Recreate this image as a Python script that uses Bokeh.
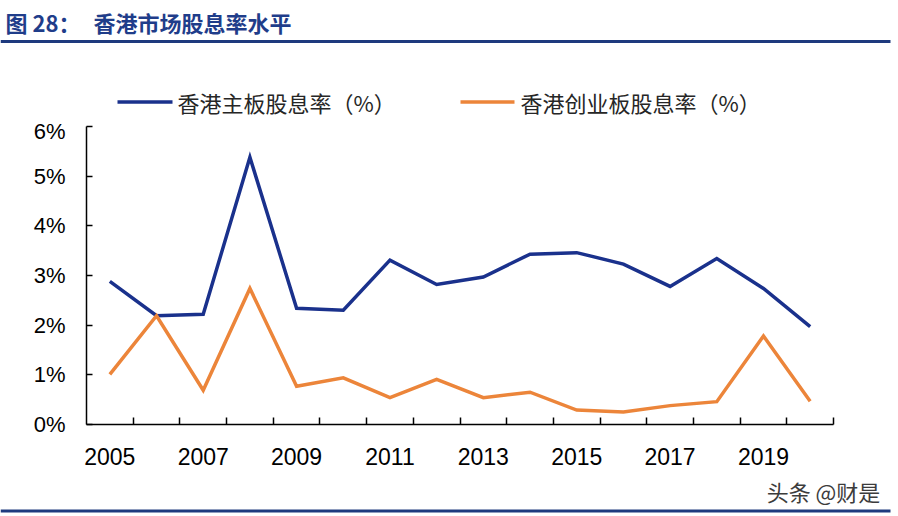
from bokeh.plotting import figure
from bokeh.models import FixedTicker, Range1d
from bokeh.layouts import column
from bokeh.core.properties import value
from bokeh.embed import file_html
from bokeh.resources import INLINE

# ---- data ----
years = list(range(2005, 2021))
main_board = [2.88, 2.19, 2.22, 5.38, 2.34, 2.30, 3.31, 2.82, 2.97, 3.43, 3.46, 3.23, 2.78, 3.34, 2.74, 1.97]
gem_board = [1.01, 2.19, 0.69, 2.74, 0.77, 0.94, 0.54, 0.91, 0.54, 0.65, 0.29, 0.25, 0.38, 0.46, 1.78, 0.47]
y_tick_values = [0, 1, 2, 3, 4, 5, 6]
y_tick_labels = ["0%", "1%", "2%", "3%", "4%", "5%", "6%"]
x_label_years = [2005, 2007, 2009, 2011, 2013, 2015, 2017, 2019]
series_names = ["香港主板股息率（%）", "香港创业板股息率（%）"]
title_parts = ["图 28：", "香港市场股息率水平"]
watermark = "头条 @财是"

BLUE = "#1a318c"
ORANGE = "#ec853a"
NAVY = "#1e3a7e"
CJK = "Noto Sans CJK SC"
W = 898
TOP_H = 118


def blank_fig(height, y_top, y_bottom):
    f = figure(width=W, height=height, output_backend="svg", toolbar_location=None,
               x_range=Range1d(0, W), y_range=Range1d(y_bottom, y_top),
               x_axis_location=None, y_axis_location=None,
               min_border=0, min_border_left=0, min_border_right=0,
               min_border_top=0, min_border_bottom=0, frame_align=False)
    f.outline_line_color = None
    f.xgrid.visible = False
    f.ygrid.visible = False
    f.background_fill_color = "white"
    f.border_fill_color = "white"
    return f


# ---- header: title, rule, legend (pixel coordinates from top) ----
top = blank_fig(TOP_H, 0, TOP_H)
top.text(x=[5, 93], y=[21, 21], text=title_parts, text_font=value(CJK), text_font_style="bold",
         text_font_size="22px", text_color="#1f3d8a", text_baseline="middle", text_align="left")
top.segment(x0=[0], y0=[41], x1=[890], y1=[41], line_color=NAVY, line_width=3)
top.segment(x0=[117, 460], y0=[101.5, 101.5], x1=[172, 514], y1=[101.5, 101.5],
            line_color=[BLUE, ORANGE], line_width=3.5)
top.text(x=[177, 520], y=[101, 101], text=series_names, text_font=value(CJK),
         text_font_size="22px", text_color="#262626", text_baseline="middle", text_align="left")

# ---- main chart ----
p = figure(width=W, height=470 - TOP_H, output_backend="svg", toolbar_location=None,
           x_range=Range1d(years[0] - 0.5, years[-1] + 0.5),
           y_range=Range1d(0, 6), frame_align=False,
           min_border_left=86, min_border_right=65, min_border_top=126 - TOP_H, min_border_bottom=46)
p.outline_line_color = None
p.xgrid.visible = False
p.ygrid.visible = False
p.background_fill_color = "white"
p.border_fill_color = "white"

p.line(years, main_board, line_color=BLUE, line_width=3.5, line_join="miter")
p.line(years, gem_board, line_color=ORANGE, line_width=3.5, line_join="miter")

ya = p.yaxis[0]
ya.ticker = FixedTicker(ticks=y_tick_values)
ya.major_label_overrides = {v: l for v, l in zip(y_tick_values, y_tick_labels)}
ya.major_tick_in = 6
ya.major_tick_out = 0
ya.minor_tick_line_color = None
ya.axis_line_width = 1.5
ya.major_tick_line_width = 1.5
ya.axis_line_color = "black"
ya.major_tick_line_color = "black"
ya.major_label_text_font = "Liberation Sans"
ya.major_label_text_font_size = "22px"
ya.major_label_text_color = "black"
ya.major_label_standoff = 21

xa = p.xaxis[0]
boundaries = [y + 0.5 for y in years]
xa.ticker = FixedTicker(ticks=x_label_years, minor_ticks=boundaries)
xa.major_label_overrides = {y: str(y) for y in x_label_years}
xa.major_tick_line_color = None
xa.minor_tick_in = 7
xa.minor_tick_out = 0
xa.minor_tick_line_width = 1.5
xa.minor_tick_line_color = "black"
xa.axis_line_width = 1.5
xa.axis_line_color = "black"
xa.major_label_text_font = "Liberation Sans"
xa.major_label_text_font_size = "23px"
xa.major_label_text_color = "black"
xa.major_label_standoff = 17

# ---- footer: watermark, rule ----
bottom = blank_fig(46, 470, 516)
bottom.text(x=[823], y=[490], text=[watermark], text_font=value(CJK), text_font_size="22px",
            text_color="#3c3c3c", text_baseline="middle", text_align="center")
bottom.segment(x0=[0], y0=[510.5], x1=[890], y1=[510.5], line_color=NAVY, line_width=3)

layout = column(top, p, bottom, spacing=0)
open("out.html", "w").write(file_html(layout, INLINE))
